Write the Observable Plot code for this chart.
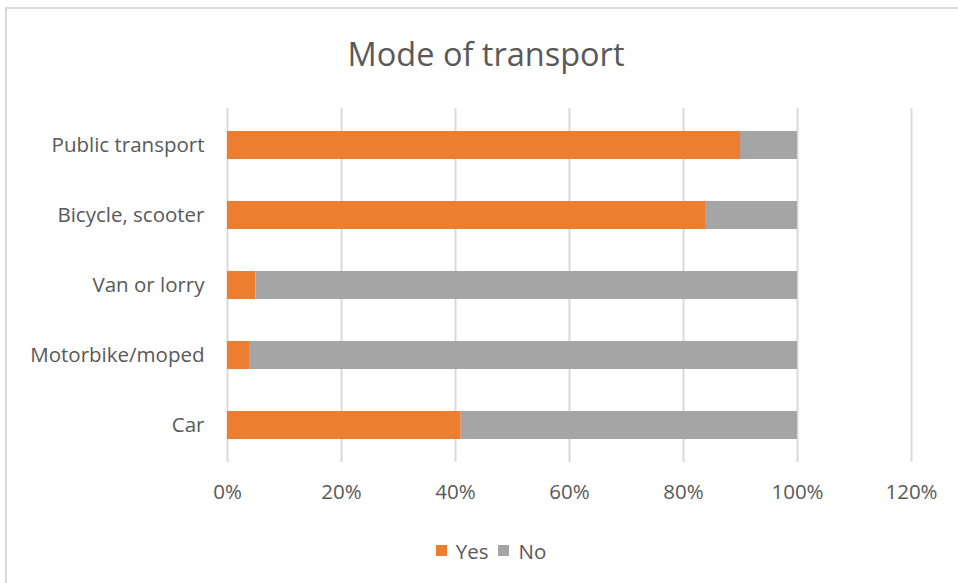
<!DOCTYPE html>
<html>
<head>
<meta charset="utf-8">
<script src="https://cdn.jsdelivr.net/npm/d3@7"></script>
<script src="https://cdn.jsdelivr.net/npm/@observablehq/plot@0.6"></script>
<style>
  html, body { margin: 0; padding: 0; background: #fff; width: 958px; height: 583px; overflow: hidden; font-family: "Open Sans", Lato, sans-serif; }
  #frame { position: absolute; left: 5px; top: 7px; width: 1000px; height: 700px; border-left: 2px solid #d9d9d9; border-top: 2px solid #d9d9d9; }
  #title { position: absolute; left: 0; top: 32px; width: 972px; text-align: center; font-size: 32.5px; color: #595959; line-height: 44px; }
  #chart { position: absolute; left: 0; top: 90px; }
  #legend { position: absolute; left: 0; top: 536px; width: 982px; text-align: center; font-size: 20.5px; color: #595959; line-height: 24px; }
  .key { display: inline-flex; align-items: center; margin: 0 5px; }
  .sw { display: inline-block; width: 11px; height: 11px; margin-right: 9px; }
</style>
</head>
<body>
<div id="frame"></div>
<div id="title">Mode of transport</div>
<div id="chart"></div>
<div id="legend"></div>
<script>
const categories = ["Public transport", "Bicycle, scooter", "Van or lorry", "Motorbike/moped", "Car"];
const yesValues = [0.90, 0.84, 0.05, 0.04, 0.41];
const noValues  = [0.10, 0.16, 0.95, 0.96, 0.59];
const seriesNames = ["Yes", "No"];
const seriesColors = ["#ED7D31", "#A5A5A5"];
const xTicks = [0, 0.2, 0.4, 0.6, 0.8, 1.0, 1.2];

const data = [];
categories.forEach((c, i) => {
  data.push({category: c, response: "Yes", value: yesValues[i]});
  data.push({category: c, response: "No", value: noValues[i]});
});

const chart = Plot.plot({
  width: 958,
  height: 430,
  marginTop: 18,
  marginBottom: 58,
  marginLeft: 227,
  marginRight: 47,
  style: {fontFamily: "'Open Sans', Lato, sans-serif", fontSize: "20.5px", color: "#595959", background: "transparent"},
  x: {domain: [0, 1.2], ticks: xTicks, tickFormat: d3.format(".0%"), label: null},
  y: {domain: categories, padding: 0.6, paddingOuter: 0.3, label: null},
  color: {domain: seriesNames, range: seriesColors},
  marks: [
    Plot.ruleX(xTicks, {stroke: "#d9d9d9", strokeWidth: 2}),
    Plot.barX(data, Plot.stackX({y: "category", x: "value", fill: "response", order: null})),
    Plot.axisX({ticks: xTicks, tickFormat: d3.format(".0%"), tickSize: 0, tickPadding: 22, fill: "#595959", fontSize: 20.5, label: null}),
    Plot.axisY({tickSize: 0, tickPadding: 23, fill: "#595959", fontSize: 20.5, label: null})
  ]
});
document.getElementById("chart").appendChild(chart);

const legend = document.getElementById("legend");
seriesNames.forEach((n, i) => {
  const k = document.createElement("span");
  k.className = "key";
  const s = document.createElement("span");
  s.className = "sw";
  s.style.background = seriesColors[i];
  k.appendChild(s);
  k.appendChild(document.createTextNode(n));
  legend.appendChild(k);
});
</script>
</body>
</html>
